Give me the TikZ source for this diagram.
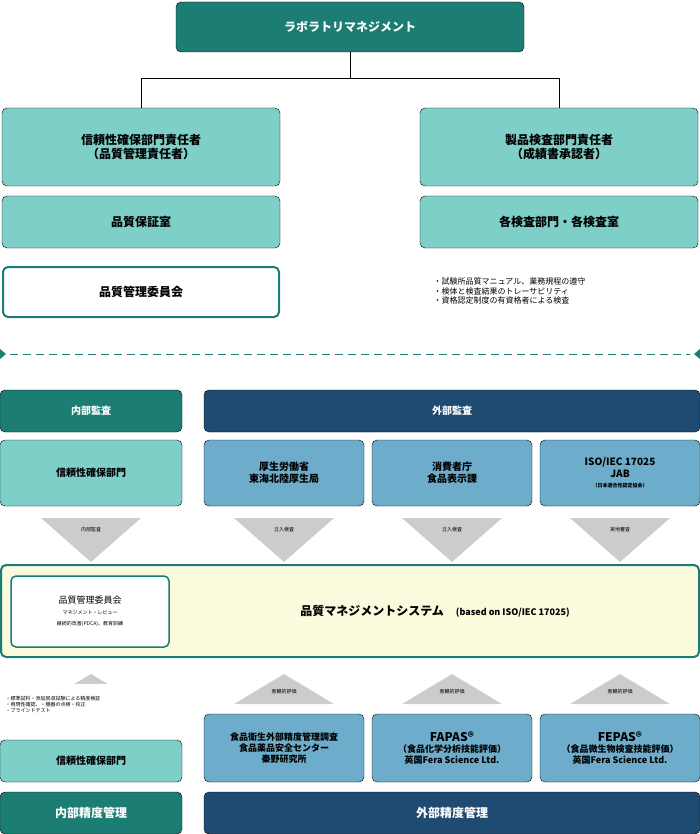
\documentclass[tikz,border=0pt]{standalone}
\usepackage{fontspec}
\setmainfont{Noto Sans CJK JP}
\usetikzlibrary{positioning}
\definecolor{darkteal}{HTML}{1C7D74}
\definecolor{lightteal}{HTML}{7FCFC9}
\definecolor{lightblue}{HTML}{6DADCB}
\definecolor{navy}{HTML}{1F4B73}
\definecolor{cream}{HTML}{FAFADD}
\definecolor{arrowgray}{HTML}{CCCCCC}

\begin{document}
\begin{tikzpicture}[
            x = 1pt, y = -1pt,
            box/.style = {rounded corners = 5pt, font = \bfseries},
            dark/.style = {box, fill = darkteal, text = white},
            light/.style = {box, fill = lightteal},
            bluebox/.style = {box, fill = lightblue},
            navybox/.style = {box, fill = navy, text = white},
            tri/.style = {fill = arrowgray},
            small/.style = {font = \tiny, align = left, anchor = west}
        ]
        \useasboundingbox (0,0) rectangle (700,834);

        % top organisation
        \draw[dark] (176,2) rectangle (524,52);
        \node[text = white, font = \large\bfseries] (lab) at (350,27) {ラボラトリマネジメント};
        \draw[light] (2,108) rectangle (280,186);
        \node[align = center, font = \large\bfseries] (relhead) at (141,147) {信頼性確保部門責任者\\（品質管理責任者）};
        \draw[light] (420,108) rectangle (698,186);
        \node[align = center, font = \large\bfseries] (insphead) at (559,147) {製品検査部門責任者\\（成績書承認者）};
        \draw (350,52) coordinate (top) -- (350,78) coordinate (mid);
        \draw (141,108) -- (141,78) -- (559,78) -- (559,108);
        \draw[light] (2,196) rectangle (280,248);
        \node[font = \large\bfseries] (qa) at (141,222) {品質保証室};
        \draw[light] (420,196) rectangle (698,248);
        \node[font = \large\bfseries] (insp) at (559,222) {各検査部門・各検査室};
        \draw[box, draw = darkteal, line width = 2pt, fill = white] (3,267) rectangle (279,317);
        \node[font = \large\bfseries] (qmc) at (141,292) {品質管理委員会};
        \node[font = \footnotesize, align = left, anchor = west] (rules) at (430,291)
            {・試験所品質マニュアル、業務規程の遵守\\・検体と検査結果のトレーサビリティ\\・資格認定制度の有資格者による検査};

        % separator
        \draw[darkteal, dash pattern = on 8pt off 5pt, thick] (10,354) -- (690,354);
        \fill[darkteal] (0,349) -- (6,354) -- (0,359) -- cycle;
        \fill[darkteal] (700,349) -- (694,354) -- (700,359) -- cycle;

        % audits
        \draw[dark] (0,390) rectangle (182,432);
        \node[text = white, font = \bfseries] (intaudit) at (91,411) {内部監査};
        \draw[navybox] (204,390) rectangle (700,432);
        \node[text = white, font = \bfseries] (extaudit) at (452,411) {外部監査};
        \draw[light] (0,440) rectangle (182,506);
        \node[font = \bfseries] (reldept) at (91,473) {信頼性確保部門};
        \draw[bluebox] (204,440) rectangle (364,506);
        \node[font = \bfseries, align = center] (mhlw) at (284,473) {厚生労働省\\東海北陸厚生局};
        \draw[bluebox] (372,440) rectangle (532,506);
        \node[font = \bfseries, align = center] (caa) at (452,473) {消費者庁\\食品表示課};
        \draw[bluebox] (540,440) rectangle (700,506);
        \node[font = \bfseries, align = center] (iso) at (620,473)
            {ISO/IEC 17025\\JAB\\[-2pt]{\tiny（日本適合性認定協会）}};
        \foreach \cx/\lbl in {91/内部監査, 284/立入検査, 452/立入検査, 620/実地審査} {
            \fill[tri] (\cx-50,518) -- (\cx+50,518) -- (\cx,562) -- cycle;
            \node[font = \tiny] at (\cx,530) {\lbl};
        }

        % QMS
        \draw[box, draw = darkteal, line width = 2pt, fill = cream] (1,565) rectangle (699,657);
        \draw[box, draw = darkteal, line width = 1.5pt, fill = white] (11,576) rectangle (169,647);
        \node[align = center, inner sep = 0pt] (qmcin) at (90,611)
            {\small 品質管理委員会\\[-1pt]{\tiny マネジメント・レビュー}\\[-1pt]{\tiny 継続的改善(PDCA)、教育訓練}};
        \node (qms) at (435,611) {\large\bfseries 品質マネジメントシステム\quad {\small (based on ISO/IEC 17025)}};

        % proficiency
        \foreach \cx in {91, 284, 452, 620} {
            \fill[tri] (\cx-50,704) -- (\cx+50,704) -- (\cx,674) -- cycle;
        }
        \foreach \cx in {284, 452, 620} {
            \node[font = \tiny] at (\cx,692) {客観的評価};
        }
        \fill[white] (0,684) rectangle (180,724);
        \node[small] (checks) at (2,704)
            {・標準試料・添加回収試験による精度検証\\・再現性確認、・機器の点検・校正\\・ブラインドテスト};
        \draw[light] (0,740) rectangle (182,782);
        \node[font = \bfseries] (reldept2) at (91,761) {信頼性確保部門};
        \draw[bluebox] (204,714) rectangle (364,782);
        \node[font = \small\bfseries, align = center] (hatano) at (284,748)
            {食品衛生外部精度管理調査\\食品薬品安全センター\\秦野研究所};
        \draw[bluebox] (372,714) rectangle (532,782);
        \node[font = \small\bfseries, align = center] (fapas) at (452,748)
            {{\large FAPAS®}\\（食品化学分析技能評価）\\英国Fera Science Ltd.};
        \draw[bluebox] (540,714) rectangle (700,782);
        \node[font = \small\bfseries, align = center] (fepas) at (620,748)
            {{\large FEPAS®}\\（食品微生物検査技能評価）\\英国Fera Science Ltd.};
        \draw[dark] (0,792) rectangle (182,834);
        \node[text = white, font = \large\bfseries] (intprof) at (91,813) {内部精度管理};
        \draw[navybox] (204,792) rectangle (700,834);
        \node[text = white, font = \large\bfseries] (extprof) at (452,813) {外部精度管理};
    \end{tikzpicture}
\end{document}
